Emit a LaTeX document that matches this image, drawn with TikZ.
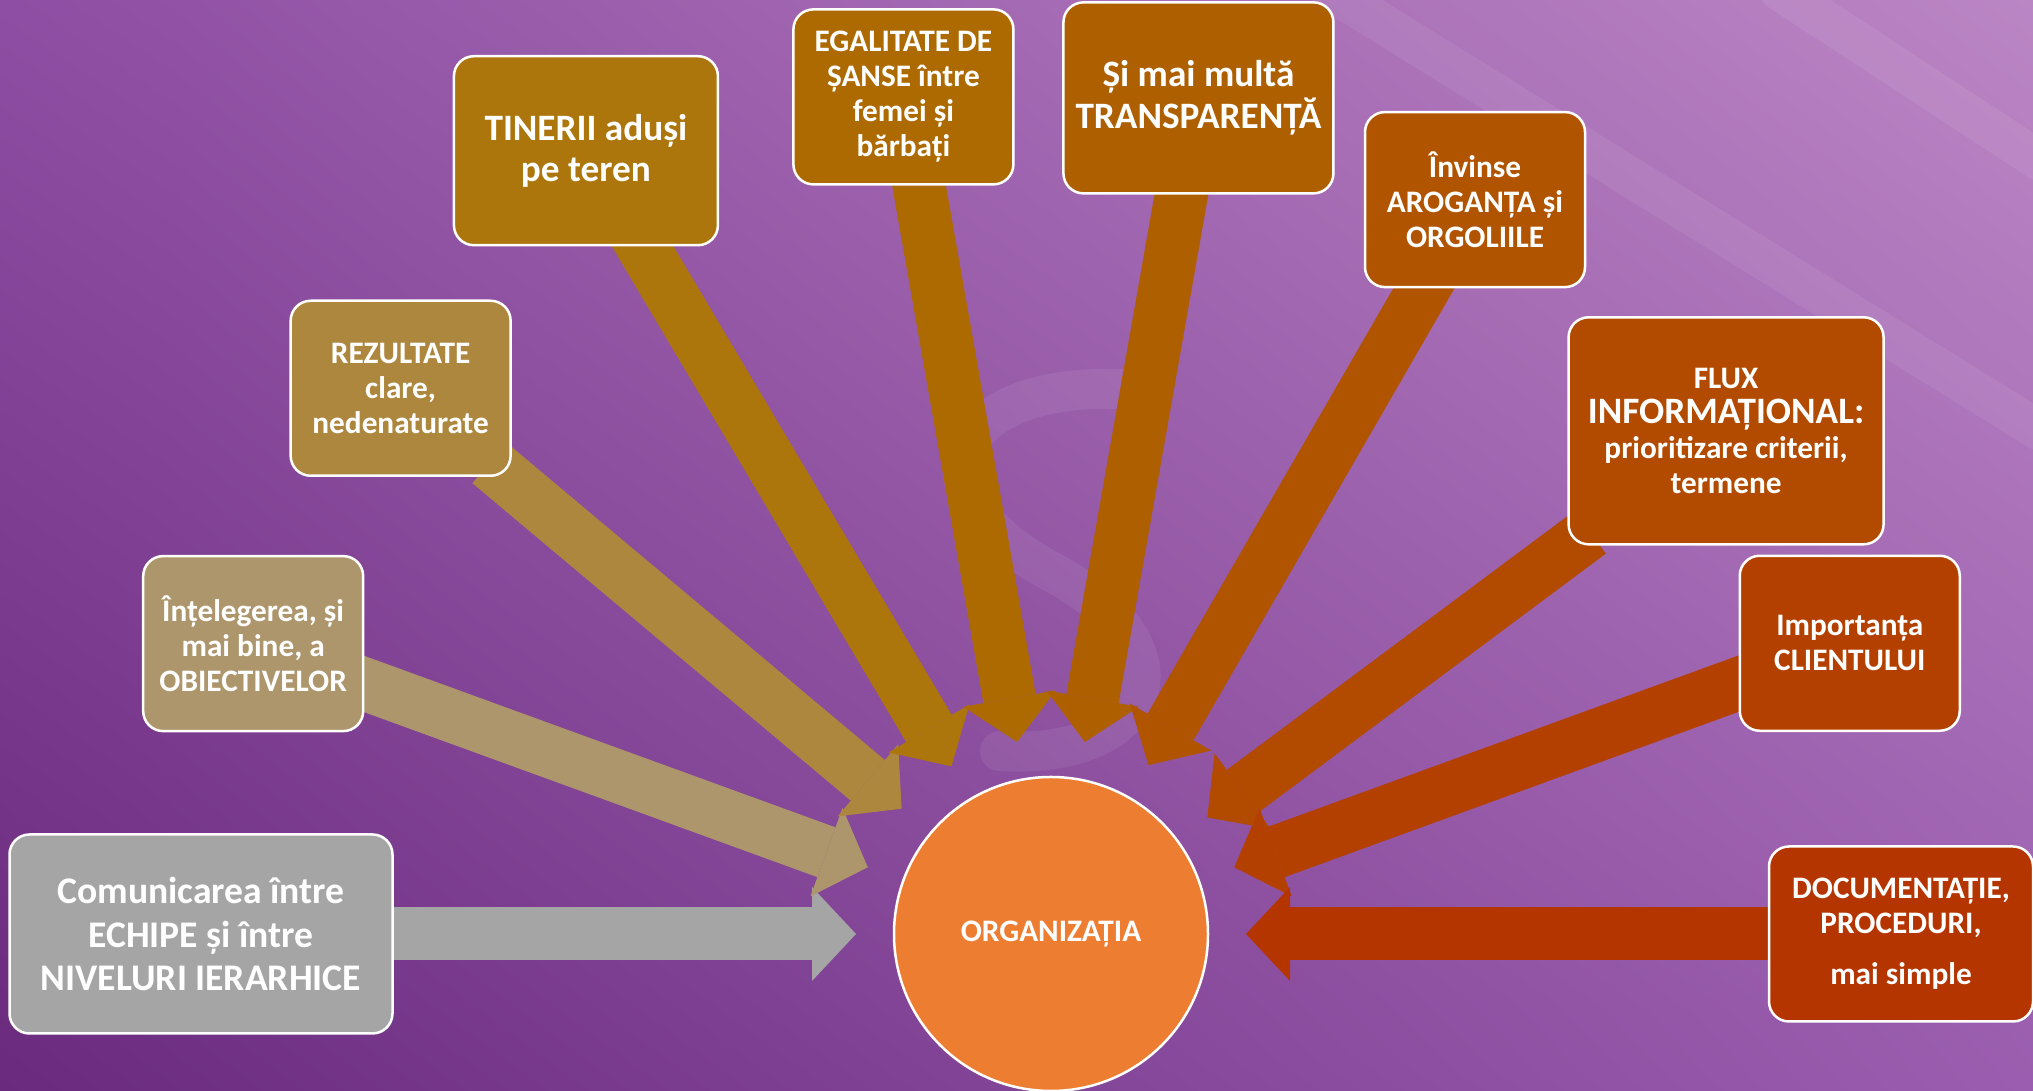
\documentclass[tikz,border=0pt]{standalone}
\usepackage{fontspec}
\setmainfont{Carlito}
\usetikzlibrary{arrows.meta,calc,backgrounds,shadings}

\definecolor{cGray}{HTML}{A5A5A5}
\definecolor{cKhaki}{HTML}{AD966B}
\definecolor{cOchre}{HTML}{AE873E}
\definecolor{cGold}{HTML}{AC760C}
\definecolor{cAmber}{HTML}{AD6A00}
\definecolor{cBronze}{HTML}{AE5F00}
\definecolor{cRust}{HTML}{B05400}
\definecolor{cCopper}{HTML}{B24A00}
\definecolor{cBrick}{HTML}{B44000}
\definecolor{cRed}{HTML}{B53500}
\definecolor{cOrange}{HTML}{ED7D31}
\definecolor{bgUL}{HTML}{8E4EA3}
\definecolor{bgUR}{HTML}{BB86C4}
\definecolor{bgLL}{HTML}{6A2B7E}
\definecolor{bgLR}{HTML}{9A5DAF}

\newcommand\fmid{\fontsize{8.9}{10}\selectfont}
\newcommand\fbig{\fontsize{10.6}{11.8}\selectfont}

\tikzset{
  box/.style={draw=white, line width=0.25mm, rounded corners=2mm, fill=#1,
    text=white, font=\bfseries\fmid, align=center, inner sep=0pt, outer sep=0pt,
    minimum width=22mm, minimum height=17.5mm},
  flow/.style={draw=#1, line width=5.3mm,
    -{Triangle[length=4.4mm,width=9.4mm,line width=0pt]},
    shorten >=3.8mm, shorten <=-2mm},
  swirl/.style={white, opacity=0.07, line width=4mm, line cap=round}
}

\begin{document}
\begin{tikzpicture}[x=0.1mm,y=0.1mm]
  \useasboundingbox (0,0) rectangle (2033,1091);
  % background
  \begin{scope}[on background layer]
    \shade[upper left=bgUL, upper right=bgUR, lower left=bgLL, lower right=bgLR]
      (0,0) rectangle (2033,1091);
    \begin{scope}
      \clip (0,0) rectangle (2033,1091);
      \draw[swirl] (1330,1100) -- (2040,660);
      \draw[swirl] (1780,1100) -- (2040,930);
      \draw[swirl] (1150,700) .. controls (950,720) and (900,600) .. (1050,520)
        .. controls (1200,440) and (1150,330) .. (1000,340);
    \end{scope}
  \end{scope}

  % centre
  \node[circle, draw=white, line width=0.25mm, fill=cOrange, text=white,
    font=\bfseries\fmid, minimum size=31.4mm, inner sep=0pt, outer sep=0pt]
    (org) at (1051,157) {ORGANIZAȚIA};

  % boxes
  \node[box=cGray, minimum width=38.3mm, minimum height=19.9mm,
    font=\bfseries\fontsize{10.7}{12.4}\selectfont]
    (b1) at ($(org)+(180:850)$) {Comunicarea între\\ECHIPE și între\\NIVELURI IERARHICE};
  \node[box=cKhaki] (b2) at ($(org)+(160:849)$) {Înțelegerea, și\\mai bine, a\\OBIECTIVELOR};
  \node[box=cOchre] (b3) at ($(org)+(140:849)$) {REZULTATE\\clare,\\nedenaturate};
  \node[box=cGold, minimum width=26.4mm, minimum height=18.9mm, font=\bfseries\fbig]
    (b4) at ($(org)+(120.7:911)$) {TINERII aduși\\pe teren};
  \node[box=cAmber] (b5) at ($(org)+(100:850)$) {EGALITATE DE\\ȘANSE între\\femei și\\bărbați};
  \node[box=cBronze, minimum width=27mm, minimum height=19.1mm, font=\bfseries\fbig]
    (b6) at ($(org)+(80:849)$) {Și mai multă\\TRANSPARENȚĂ};
  \node[box=cRust] (b7) at ($(org)+(60:848)$) {Învinse\\AROGANȚA și\\ORGOLIILE};
  \node[box=cCopper, minimum width=31.5mm, minimum height=22.7mm]
    (b8) at ($(org)+(36.7:842)$) {FLUX\\{\fbig INFORMAȚIONAL:}\\prioritizare criterii,\\termene};
  \node[box=cBrick] (b9) at ($(org)+(20:850)$) {Importanța\\CLIENTULUI};
  \node[box=cRed, minimum width=26.4mm] (b10) at ($(org)+(0:850)$)
    {DOCUMENTAȚIE,\\PROCEDURI,\\[4.5pt]mai simple};

  % arrows
  \begin{scope}[on background layer]
    \draw[flow=cGray] (b1) -- (org);
    \draw[flow=cKhaki] (b2) -- (org);
    \draw[flow=cOchre] (b3) -- (org);
    \draw[flow=cGold] (b4) -- (org);
    \draw[flow=cAmber] (b5) -- (org);
    \draw[flow=cBronze] (b6) -- (org);
    \draw[flow=cRust] (b7) -- (org);
    \draw[flow=cCopper] (b8) -- (org);
    \draw[flow=cBrick] (b9) -- (org);
    \draw[flow=cRed] (b10) -- (org);
  \end{scope}
\end{tikzpicture}
\end{document}
